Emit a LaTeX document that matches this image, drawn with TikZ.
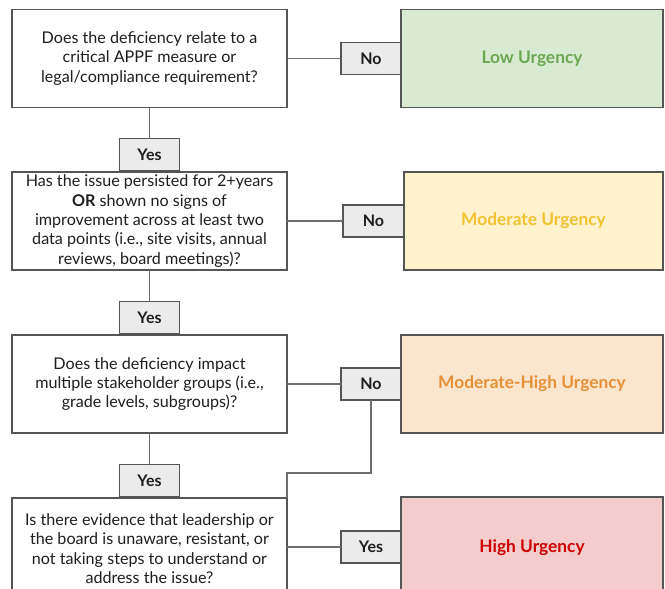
\documentclass[tikz,border=0pt]{standalone}
\usepackage{fontspec}
\setmainfont{Lato}
\usetikzlibrary{positioning}
\definecolor{bordc}{HTML}{555555}
\definecolor{linec}{HTML}{6E6E6E}
\definecolor{txtc}{HTML}{1E1E1E}
\definecolor{lblfill}{HTML}{EBEBEB}
\definecolor{lowfill}{HTML}{D9EAD3}\definecolor{lowtxt}{HTML}{6AA84F}
\definecolor{modfill}{HTML}{FFF2CC}\definecolor{modtxt}{HTML}{F1C232}
\definecolor{mhfill}{HTML}{FCE5CD}\definecolor{mhtxt}{HTML}{E69138}
\definecolor{hifill}{HTML}{F4CCCC}\definecolor{hitxt}{HTML}{CC0000}
\tikzset{
  qbox/.style={draw=bordc, line width=0.8pt, fill=white, minimum width=206.25pt, minimum height=73.5pt,
    inner sep=0pt, outer sep=0pt, align=center, text=txtc, font=\fontsize{12.1}{14.6}\selectfont},
  outbox/.style={draw=bordc, line width=0.8pt, minimum width=196.5pt, minimum height=73.5pt,
    inner sep=0pt, outer sep=0pt, font=\fontsize{13}{15}\selectfont\bfseries},
  lbl/.style={draw=bordc, line width=0.8pt, fill=lblfill, minimum width=45pt, minimum height=24pt,
    inner sep=0pt, outer sep=0pt, text=txtc, font=\fontsize{12}{14}\selectfont\bfseries},
  conn/.style={draw=linec, line width=0.8pt},
}
\begin{document}
\begin{tikzpicture}[x=0.75pt,y=-0.75pt]
\useasboundingbox (0,0) rectangle (665,589);
\clip (0,0) rectangle (665,589);
% questions
\node[qbox] (q1) at (149.5,58.5) {Does the deficiency relate to a\\critical APPF measure or\\legal/compliance requirement?};
\node[qbox] (q2) at (149.5,221) {Has the issue persisted for 2+years\\\textbf{OR} shown no signs of\\improvement across at least two\\data points (i.e., site visits, annual\\reviews, board meetings)?};
\node[qbox] (q3) at (149.5,384) {Does the deficiency impact\\multiple stakeholder groups (i.e.,\\grade levels, subgroups)?};
\node[qbox, minimum height=75.75pt] (q4) at (149.5,548.5) {Is there evidence that leadership or\\the board is unaware, resistant, or\\not taking steps to understand or\\address the issue?};
% outcomes
\node[outbox, fill=lowfill, text=lowtxt] (low) at (532,58.5) {Low Urgency};
\node[outbox, fill=modfill, text=modtxt, minimum width=194.25pt] (mod) at (533.5,221) {Moderate Urgency};
\node[outbox, fill=mhfill, text=mhtxt] (mh) at (532,384) {Moderate-High Urgency};
\node[outbox, fill=hifill, text=hitxt, minimum height=76.5pt] (hi) at (532,548) {High Urgency};
% labels
\node[lbl] (no1) at (371,58.5) {No};
\node[lbl] (yes1) at (149.5,154.5) {Yes};
\node[lbl, minimum width=45.75pt] (no2) at (373.5,221) {No};
\node[lbl] (yes2) at (149.5,317.5) {Yes};
\node[lbl] (no3) at (371,384) {No};
\node[lbl] (yes3) at (149.5,480.5) {Yes};
\node[lbl] (yes4) at (371,547) {Yes};
\coordinate (j) at (287,473);
% connectors
\draw[conn] (q1.east) -- (no1.west);
\draw[conn] (q1.south) -- (yes1.north);
\draw[conn] (q2.east) -- (no2.west);
\draw[conn] (q2.south) -- (yes2.north);
\draw[conn] (q3.east) -- (no3.west);
\draw[conn] (q3.south) -- (yes3.north);
\draw[conn] (no3.south) |- (j) -- (q4.north east);
\draw[conn] (yes4.west -| q4.east) -- (yes4.west);
\end{tikzpicture}
\end{document}
